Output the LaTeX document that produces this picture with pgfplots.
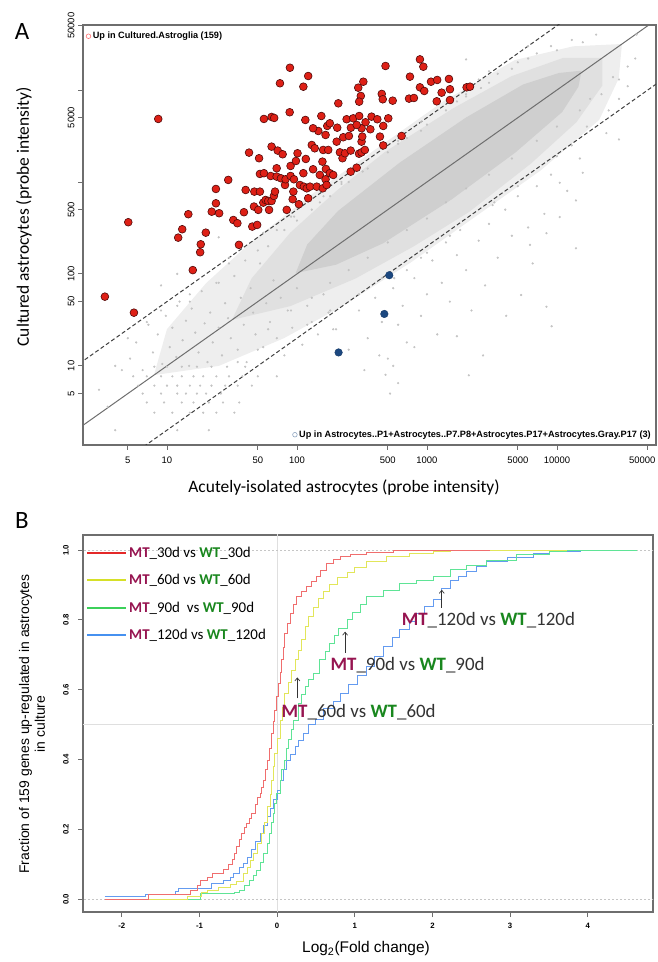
\documentclass[border=0pt]{standalone}
\usepackage{pgfplots}
\pgfplotsset{compat=1.18}
\usepackage{fontspec}
\setmainfont{Liberation Sans}
\newfontfamily\calibri{Carlito}
\usetikzlibrary{arrows.meta}

\definecolor{ptred}{RGB}{222,32,22}
\definecolor{ptredline}{RGB}{80,10,10}
\definecolor{ptblue}{RGB}{28,72,128}
\definecolor{cloud}{RGB}{195,195,195}
\definecolor{boxgray}{RGB}{110,110,110}
\definecolor{mtcol}{RGB}{150,20,80}
\definecolor{wtcol}{RGB}{25,135,30}
\definecolor{c30}{RGB}{240,110,110}
\definecolor{c60}{RGB}{226,230,90}
\definecolor{c90}{RGB}{95,228,150}
\definecolor{c120}{RGB}{100,155,240}
\definecolor{l30}{RGB}{228,40,40}
\definecolor{l60}{RGB}{214,224,40}
\definecolor{l90}{RGB}{60,208,90}
\definecolor{l120}{RGB}{70,145,240}

\newcommand{\mt}{\textbf{\color{mtcol}MT}}
\newcommand{\wt}{\textbf{\color{wtcol}WT}}

\begin{document}
\begin{tikzpicture}
\useasboundingbox (0,0) rectangle (658bp,962bp);

% ---------------- panel A ----------------
\begin{axis}[
  at={(83bp,517bp)}, anchor=south west, scale only axis,
  width=573bp, height=420bp,
  xmode=log, ymode=log,
  xmin=2.26, xmax=57800, ymin=1.38, ymax=50900,
  xtick={5,10,50,100,500,1000,5000,10000,50000},
  xticklabels={5,10,50,100,500,1000,5000,10000,\makebox[0pt]{50000\kern11bp}},
  ytick={5,10,50,100,500,1000,5000,10000,50000},
  yticklabels={5,10,50,100,500,,5000,,50000},
  xminorticks=false, yminorticks=false,
  tick pos=left, tick align=outside, major tick length=5bp,
  axis line style={boxgray, line width=1.1bp},
  every tick/.style={boxgray, line width=0.9bp},
  ticklabel style={font=\fontsize{9.5}{10}\selectfont},
  yticklabel style={rotate=90, anchor=near yticklabel},
  xticklabel style={anchor=north, yshift=-3bp},
  legend style={at={(0,1)}, anchor=north west, draw=none, fill=none,
    font=\bfseries\fontsize{9.2}{10}\selectfont, inner sep=1bp,
    xshift=2bp, yshift=-4bp},
  legend cell align=left,
]
% light cloud
\addplot[fill=gray!13, draw=none, forget plot] coordinates {
 (7.94,7.94) (10,25.1) (20,79.4) (44.7,224) (133,750) (422,2371) (1334,7499)
 (4732,21135) (13335,29854) (31623,31623) (29854,13335) (21135,4732)
 (7499,1334) (2371,422) (750,133) (224,44.7) (79.4,20) (25.1,10)} -- cycle;
% mid cloud
\addplot[fill=gray!24, draw=none, forget plot] coordinates {
 (31.6,31.6) (44.7,89.1) (89.1,282) (200,794) (473,2113) (1585,6310)
 (4467,14125) (11220,22387) (22387,22387) (22387,11220) (14125,4467)
 (6310,1585) (2113,473) (794,200) (282,89.1) (89.1,44.7)} -- cycle;
% dense core
\addplot[fill=gray!38, draw=none, forget plot] coordinates {
 (97.7,102) (120,209) (207,484) (617,1622) (1995,5012) (5495,11482)
 (10351,15311) (15488,16218) (14622,10839) (10965,5754) (4786,2089)
 (1549,646) (462,216) (200,126)} -- cycle;
% individual gray probes
\addplot[cloud, only marks, mark=*, mark size=0.9bp, forget plot] coordinates {
 (5.5,7.7) (7,7.7) (9,7.7) (11,7.7) (13,7.7) (16,7.7) (19,7.7) (24,7.7) (30,7.7) (38,7.7) (50,7.7) (70,7.7)
 (6,6.1) (8,6.1) (10,6.1) (12,6.1) (15,6.1) (18,6.1) (22,6.1) (28,6.1) (35,6.1) (45,6.1)
 (6.5,5) (9,5) (12,5) (14,5) (17,5) (20,5) (26,5)
 (7,4) (9.5,4) (13,4) (16,4) (21,4) (27,4) (36,4)
 (8,3.1) (11,3.1) (15,3.1) (19,3.1) (24,3.1) (33,3.1)
 (4,2) (12,2) (21,2) (3.5,3.6) (4.5,9) (3,5.5)
 (8,9.8) (10,9.8) (13,9.8) (17,9.8) (22,9.8) (29,9.8) (40,9.8)
 (5.2,12) (5.8,18) (6.5,9) (7.2,28) (7.8,14) (8.5,22) (9.2,10.5) (9.8,35)
 (10.5,16) (11,26) (11.8,12.5) (12.5,50) (13.2,19) (14,31) (14.8,10) (15.5,42)
 (16.5,23) (17.5,14) (18.5,65) (19.5,29) (20.5,11) (21.5,38) (22.5,18) (24,80)
 (25,26) (26.5,13) (28,48) (29.5,33) (31,20) (33,95) (35,15) (37,55) (39,28)
 (41,11) (44,70) (46,38) (48,22) (52,130) (55,16) (58,48) (62,30) (66,85)
 (70,20) (75,55) (80,13) (85,40) (92,26) (100,70) (110,17) (120,45) (130,30)
 (145,22) (160,60) (175,38) (190,25)
 (4,10) (5,20) (7,30) (9,40) (12,45) (15,60) (12,100) (25,250) (9,75)
 (15,50) (25,80) (30,130) (50,180) (70,300) (95,420) (160,700) (220,1000)
 (300,1500) (600,2800) (900,4500) (2000,9000) (2500,13000) (3500,15000)
 (6000,22000) (9000,30000) (13000,35000)
 (35,11) (50,15) (120,28) (180,40) (300,60) (450,90) (1000,170) (1500,260)
 (3200,560) (5000,900) (10000,1900) (13000,2500) (17000,4000) (30000,8000) (35000,11000)
 (40,140) (60,200) (80,300) (100,380) (130,500) (180,700) (250,1000) (350,1400)
 (500,2100) (700,3000) (1000,4200) (1400,6000) (2000,8500) (3000,12000) (4500,17000) (7000,25000)
 (60,25) (90,40) (130,55) (180,80) (250,110) (350,150) (500,220) (700,300)
 (1000,400) (1400,600) (2000,850) (3000,1200) (4500,1800) (7000,2800) (10000,4000)
 (15000,6000) (22000,9000) (30000,13000)
 (30,150) (55,280) (90,420) (150,600) (220,950) (320,1300) (600,2600) (900,3600)
 (1700,7500) (2600,10500) (5000,20000)
 (200,25) (250,15) (300,40) (350,20) (400,55) (450,30) (500,12) (550,70) (600,28)
 (650,45) (700,18) (800,90) (900,35) (1000,60) (1100,140) (1200,22) (1300,80)
 (1500,50) (1700,160) (2000,110) (2200,40) (2500,230) (2800,75) (3000,350)
 (3500,150) (4000,500) (4500,260) (5000,700) (6000,320) (7000,900) (8000,450)
 (9000,1200) (12000,800) (15000,1800) (6500,130) (3300,600) (1800,300)
 (1400,220) (900,150) (700,110) (560,90) (2100,7.9) (2700,13) (4070,35)
 (8300,44) (9100,27) (14000,190) (6200,207) (5300,59) (1700,21) (480,8)
 (520,5) (550,10) (600,6.5) (430,13) (330,9) (800,16)
 (2000,21500) (10000,27000) (15800,33000) (27000,13800) (30000,2900)
 (24000,3400) (15800,1260) (10500,980) (14000,630) (10500,415) (8300,277)
 (41000,40000) (35000,18000) (20000,40000) (3000,16000) (6000,30000)
 (40000,22000) (18000,8000) (25000,6000)
};
% reference lines
\addplot[boxgray, line width=1bp, forget plot] coordinates {(1,1) (100000,100000)};
\addplot[black!75, line width=1bp, dash pattern=on 4bp off 2.5bp, forget plot] coordinates {(1,5) (20000,100000)};
\addplot[black!75, line width=1bp, dash pattern=on 4bp off 2.5bp, forget plot] coordinates {(5,1) (500000,100000)};
% up in cultured astroglia
\addplot[only marks, mark=*, mark size=3.9bp,
  mark options={fill=ptred, draw=ptredline, line width=0.6bp}, forget plot] coordinates {
 (3.33,56.6) (5.57,37.9) (5.04,365) (8.57,4842) (12.2,248) (13.1,306) (14.6,446)
 (15.8,110) (18.0,172) (18.2,210) (19.9,281) (22.1,475) (23.8,586) (25.2,457)
 (23.8,839) (29.6,1052) (32.4,386) (34.8,356) (35.8,207) (39.1,469) (40.3,818)
 (42.8,2084) (45.3,327) (49.4,341) (46.7,540) (47.0,785) (50.4,497) (51.1,1811)
 (51.9,785) (51.9,1222) (55.7,1245) (55.1,596) (57.4,637) (60.1,621) (61.0,497)
 (62.8,1161) (63.8,621) (63.8,2421) (66.5,705) (67.8,785) (69.8,1409) (69.8,1143)
 (71.1,2193) (75.3,1096) (77.6,2000) (80.9,927) (81.8,1069) (83.4,497) (89.3,1161)
 (89.3,1493) (92.7,649) (93.8,785) (94.8,1069) (98.2,1690) (101,2051) (103.5,573)
 (105.4,927) (112,1245) (113,889) (117,1778) (119,853) (122,665) (126,889)
 (130,2523) (133,1374) (137,2323) (142,889) (146,3581) (150,1191) (157,1663)
 (158,853) (159,2228) (166,1069) (167,1384) (169,927) (166,3243) (174,2228)
 (179,1245) (190,1191) (133,3837) (154,5212) (116,4721) (87.9,5728) (55.7,4842)
 (63.8,5093) (66.8,4966) (171,4064) (179,4345) (208,7161) (88.3,17458) (74,11830)
 (122,14190) (112,10860) (202,2742) (204,3890) (214,2099) (224,1811) (227,3062)
 (234,2051) (241,4808) (251,3162) (259,2193) (259,1294) (271,4920) (260,3890)
 (288,1429) (300,2028) (301,5212) (314,3837) (314,2742) (314,2099) (318,3112)
 (333,2228) (337,4457) (367,3741) (375,5129) (415,4808) (435,3112) (461,4064)
 (461,2495) (504,4920) (638,3162) (296,10590) (324,12300) (310,8610) (301,7464)
 (449,9057) (457,7925) (545,7656) (480,18240) (883,21530) (938,17910) (740,13960)
 (728,8054) (794,8185) (883,10690) (953,9750) (1074,12300) (1199,12850) (1476,13180)
 (1297,9354) (1189,7534) (1503,10190) (1503,7780) (2018,10690) (2143,10860) (288,4169)
};
% up in acutely isolated astrocytes
\addplot[only marks, mark=*, mark size=3.8bp,
  mark options={fill=ptblue, draw=ptblue!80!black, line width=0.4bp}, forget plot] coordinates {
 (513,96.8) (470,36.7) (209,14)
};
\addlegendimage{only marks, mark=o, mark size=2.3bp, mark options={draw=red!55, line width=0.6bp}}
\addlegendentry{Up in Cultured.Astroglia (159)}
\end{axis}

% second legend of panel A
\begin{axis}[
  at={(83bp,517bp)}, anchor=south west, scale only axis,
  width=573bp, height=420bp, hide axis,
  xmin=0, xmax=1, ymin=0, ymax=1,
  legend style={at={(1,0)}, anchor=south east, draw=none, fill=none,
    font=\bfseries\fontsize{9.2}{10}\selectfont, inner sep=1bp,
    xshift=-2bp, yshift=3bp},
]
\addlegendimage{only marks, mark=o, mark size=2.3bp, mark options={draw=ptblue!50, line width=0.6bp}}
\addlegendentry{Up in Astrocytes..P1+Astrocytes..P7.P8+Astrocytes.P17+Astrocytes.Gray.P17 (3)}
\end{axis}

\node[font=\calibri\fontsize{25}{28}\selectfont] at (22bp,930bp) {A};
\node[font=\calibri\fontsize{17.5}{20}\selectfont] at (344bp,474bp) {Acutely-isolated astrocytes (probe intensity)};
\node[font=\calibri\fontsize{17.5}{20}\selectfont, rotate=90] at (24bp,745bp) {Cultured astrocytes (probe intensity)};

% ---------------- panel B ----------------
\begin{axis}[
  at={(83bp,50bp)}, anchor=south west, scale only axis,
  width=570bp, height=377bp,
  xmin=-2.5, xmax=4.84, ymin=-0.037, ymax=1.043,
  xtick={-2,-1,0,1,2,3,4}, xticklabels={-2,-1,0,1,2,3,4},
  ytick={0,0.2,0.4,0.6,0.8,1.0}, yticklabels={},
  tick pos=left, tick align=outside, major tick length=5bp,
  axis line style={boxgray, line width=1.1bp},
  every tick/.style={boxgray, line width=0.9bp},
  ticklabel style={font=\bfseries\fontsize{7.8}{9}\selectfont},
  xticklabel style={anchor=north, yshift=-3bp},
  legend style={at={(0,1)}, anchor=north west, draw=none, fill=none,
    font=\calibri\fontsize{15}{17}\selectfont, inner sep=1bp,
    row sep=11.5bp, xshift=2bp, yshift=-9bp},
  legend cell align=left,
  legend image code/.code={\draw[#1, line width=2bp] (0bp,0bp) -- (39bp,0bp);},
]
\addplot[gray!25, line width=0.7bp, forget plot] coordinates {(0,-0.1) (0,1.1)};
\addplot[gray!25, line width=0.7bp, forget plot] coordinates {(-3,0.5) (5,0.5)};
\addplot[gray!45, line width=0.6bp, dash pattern=on 2bp off 2bp, forget plot] coordinates {(-3,0) (5,0)};
\addplot[gray!45, line width=0.6bp, dash pattern=on 2bp off 2bp, forget plot] coordinates {(-3,1) (5,1)};
% MT_120d vs WT_120d
\addplot[c120, line width=1bp, const plot, forget plot] coordinates {
 (-2.22,0.0063) (-1.7,0.013) (-1.31,0.021) (-1.27,0.031) (-0.84,0.045) (-0.69,0.054)
 (-0.6,0.063) (-0.56,0.073) (-0.48,0.09) (-0.43,0.102) (-0.38,0.12) (-0.33,0.141)
 (-0.28,0.165) (-0.22,0.188) (-0.17,0.21) (-0.13,0.236) (-0.09,0.26) (-0.05,0.284)
 (0.0,0.31) (0.04,0.341) (0.08,0.37) (0.12,0.398) (0.17,0.415) (0.23,0.436)
 (0.28,0.455) (0.34,0.475) (0.41,0.50) (0.5,0.515) (0.6,0.545) (0.72,0.565)
 (0.82,0.59) (0.92,0.615) (1.03,0.64) (1.15,0.666) (1.26,0.695) (1.37,0.723)
 (1.48,0.748) (1.58,0.771) (1.7,0.795) (1.8,0.819) (1.9,0.838) (2.01,0.857)
 (2.12,0.89) (2.23,0.914) (2.34,0.925) (2.44,0.938) (2.57,0.952) (2.7,0.966)
 (2.96,0.979) (3.3,0.99) (3.51,0.995) (3.9,1.0) (4.6,1.0)
};
% MT_90d vs WT_90d
\addplot[c90, line width=1bp, const plot, forget plot] coordinates {
 (-2.22,0) (-0.99,0.017) (-0.55,0.02) (-0.48,0.026) (-0.42,0.04) (-0.35,0.054)
 (-0.30,0.068) (-0.26,0.083) (-0.21,0.105) (-0.17,0.13) (-0.13,0.16) (-0.10,0.188)
 (-0.07,0.22) (-0.05,0.245) (-0.03,0.275) (-0.01,0.303) (0.04,0.341) (0.06,0.37)
 (0.09,0.398) (0.12,0.43) (0.15,0.456) (0.18,0.485) (0.21,0.513) (0.27,0.561)
 (0.31,0.585) (0.36,0.608) (0.41,0.63) (0.47,0.646) (0.55,0.685) (0.62,0.71)
 (0.68,0.732) (0.74,0.755) (0.79,0.775) (0.9,0.80) (0.97,0.82) (1.07,0.845)
 (1.15,0.866) (1.37,0.885) (1.58,0.905) (1.8,0.914) (2.01,0.923) (2.23,0.943)
 (2.44,0.957) (2.7,0.971) (3.08,0.986) (3.51,0.995) (3.73,1.0) (4.63,1.0)
};
% MT_60d vs WT_60d
\addplot[c60, line width=1bp, const plot, forget plot] coordinates {
 (-2.22,0) (-1.15,0.006) (-0.98,0.019) (-0.9,0.025) (-0.75,0.032) (-0.6,0.041)
 (-0.52,0.05) (-0.43,0.073) (-0.38,0.09) (-0.34,0.11) (-0.30,0.13) (-0.25,0.16)
 (-0.2,0.188) (-0.16,0.22) (-0.12,0.264) (-0.09,0.30) (-0.07,0.341) (-0.05,0.38)
 (-0.03,0.417) (0.0,0.46) (0.04,0.513) (0.07,0.55) (0.10,0.589) (0.14,0.62)
 (0.19,0.656) (0.23,0.685) (0.27,0.713) (0.31,0.745) (0.36,0.78) (0.41,0.81)
 (0.47,0.835) (0.53,0.86) (0.6,0.88) (0.68,0.90) (0.78,0.92) (0.9,0.935)
 (1.0,0.95) (1.15,0.966) (1.41,0.981) (1.71,0.99) (2.01,0.995) (2.23,1.0) (3.73,1.0)
};
% MT_30d vs WT_30d
\addplot[c30, line width=1bp, const plot, forget plot] coordinates {
 (-2.22,0) (-1.66,0.013) (-1.12,0.026) (-1.02,0.040) (-0.99,0.054) (-0.90,0.063)
 (-0.83,0.073) (-0.69,0.085) (-0.62,0.10) (-0.58,0.112) (-0.55,0.13) (-0.52,0.15)
 (-0.49,0.17) (-0.46,0.188) (-0.42,0.205) (-0.39,0.217) (-0.36,0.23) (-0.33,0.245)
 (-0.28,0.27) (-0.25,0.29) (-0.22,0.303) (-0.20,0.32) (-0.18,0.341) (-0.15,0.37)
 (-0.12,0.398) (-0.10,0.43) (-0.07,0.475) (-0.05,0.51) (-0.03,0.541) (-0.01,0.58)
 (0.017,0.618) (0.04,0.65) (0.06,0.685) (0.08,0.72) (0.10,0.761) (0.13,0.79)
 (0.17,0.818) (0.21,0.845) (0.25,0.866) (0.31,0.88) (0.38,0.895) (0.44,0.91)
 (0.51,0.923) (0.56,0.94) (0.64,0.962) (0.72,0.973) (0.81,0.981) (0.95,0.987)
 (1.15,0.994) (1.5,1.0) (2.74,1.0)
};
\addlegendimage{l30}
\addlegendentry{\mt\_30d vs \wt\_30d}
\addlegendimage{l60}
\addlegendentry{\mt\_60d vs \wt\_60d}
\addlegendimage{l90}
\addlegendentry{\mt\_90d \ vs \wt\_90d}
\addlegendimage{l120}
\addlegendentry{\mt\_120d vs \wt\_120d}
% annotations
\draw[black!80, line width=0.7bp, -{Straight Barb[length=3bp,width=5bp]}] (axis cs:0.26,0.575) -- (axis cs:0.26,0.635);
\draw[black!80, line width=0.7bp, -{Straight Barb[length=3bp,width=5bp]}] (axis cs:0.875,0.705) -- (axis cs:0.875,0.766);
\draw[black!80, line width=0.7bp, -{Straight Barb[length=3bp,width=5bp]}] (axis cs:2.12,0.835) -- (axis cs:2.12,0.886);
\node[font=\calibri\fontsize{19}{21}\selectfont, text=black!80] at (axis cs:1.05,0.535) {\mt\_60d vs \wt\_60d};
\node[font=\calibri\fontsize{19}{21}\selectfont, text=black!80] at (axis cs:1.68,0.67) {\mt\_90d vs \wt\_90d};
\node[font=\calibri\fontsize{19}{21}\selectfont, text=black!80] at (axis cs:2.72,0.80) {\mt\_120d vs \wt\_120d};
\end{axis}

% y tick labels of panel B
\begin{scope}[every node/.style={rotate=90, font=\bfseries\fontsize{7.8}{9}\selectfont}]
\node at (66bp,62.9bp) {0.0};
\node at (66bp,132.7bp) {0.2};
\node at (66bp,202.5bp) {0.4};
\node at (66bp,272.3bp) {0.6};
\node at (66bp,342.1bp) {0.8};
\node at (66bp,411.9bp) {1.0};
\end{scope}

\node[font=\calibri\fontsize{25}{28}\selectfont] at (22bp,441bp) {B};
\node[font=\fontsize{14}{16}\selectfont, rotate=90, align=center] at (32bp,238bp)
  {Fraction of 159 genes up-regulated in astrocytes\\in culture};
\node[font=\fontsize{15.5}{18}\selectfont] at (366bp,13bp) {Log\textsubscript{2}(Fold change)};
\end{tikzpicture}
\end{document}
